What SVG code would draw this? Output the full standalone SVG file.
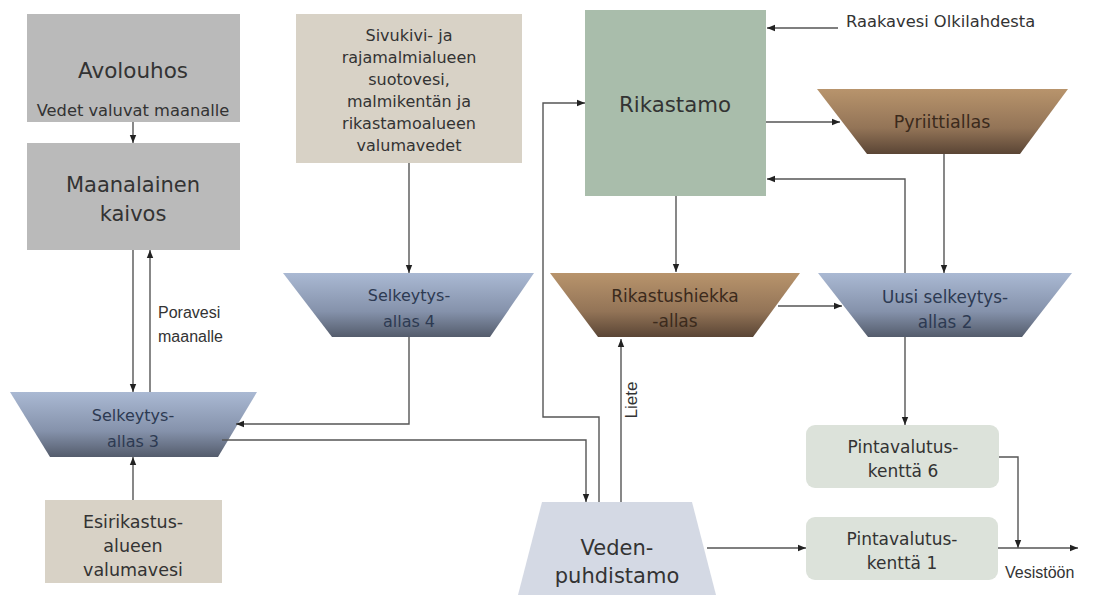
<svg xmlns="http://www.w3.org/2000/svg" width="1095" height="595" viewBox="0 0 1095 595">
<defs>
<linearGradient id="gBlue" x1="0" y1="0" x2="0" y2="1">
<stop offset="0" stop-color="#aab9d3"/><stop offset="0.6" stop-color="#8592ab"/><stop offset="1" stop-color="#545c6c"/>
</linearGradient>
<linearGradient id="gBrown" x1="0" y1="0" x2="0" y2="1">
<stop offset="0" stop-color="#b8946c"/><stop offset="0.6" stop-color="#937457"/><stop offset="1" stop-color="#5a4535"/>
</linearGradient>
<marker id="arr" markerUnits="userSpaceOnUse" markerWidth="8" markerHeight="8" viewBox="0 0 8 8" refX="8" refY="4" orient="auto">
<path d="M0,0.8 L8,4 L0,7.2 Z" fill="#222"/>
</marker>
<style>
.t{font-family:"DejaVu Sans","Liberation Sans",sans-serif;text-anchor:middle;}
.s{font-family:"DejaVu Sans","Liberation Sans",sans-serif;text-anchor:start;}
.n{font-family:"Liberation Sans",Arial,sans-serif;}
.grey{fill:#bababa;}
.beige{fill:#d8d2c6;}
.green{fill:#a9bdab;}
.pale{fill:#dce2da;}
.veden{fill:#d4d9e4;}
.blue{fill:url(#gBlue);}
.brown{fill:url(#gBrown);}
.dk{fill:#333;}
.bt{fill:#2d3a52;}
.br{fill:#3b2a1c;}
.c path{fill:none;stroke:#555;stroke-width:1.4;marker-end:url(#arr);}
</style>
</defs>
<rect width="1095" height="595" fill="#fff"/>

<g id="avolouhos">
<rect class="grey" x="27" y="14" width="213" height="108"/>
<text class="t dk" x="133" y="78" font-size="21.5">Avolouhos</text>
<text class="t dk" x="133" y="116" font-size="16.3">Vedet valuvat maanalle</text>
</g>
<g id="maanalainen">
<rect class="grey" x="27" y="143" width="213" height="107"/>
<text class="t dk" x="133" y="192" font-size="21">Maanalainen</text>
<text class="t dk" x="133" y="221" font-size="21">kaivos</text>
</g>
<g id="sivukivi">
<rect class="beige" x="296" y="14" width="226" height="149"/>
<g class="t dk" font-size="16">
<text x="409" y="41">Sivukivi- ja</text>
<text x="409" y="63">rajamalmialueen</text>
<text x="409" y="85">suotovesi,</text>
<text x="409" y="107">malmikentän ja</text>
<text x="409" y="129">rikastamoalueen</text>
<text x="409" y="151">valumavedet</text>
</g>
</g>
<g id="selkeytys4">
<polygon class="blue" points="283,273 534,273 490,337 332,337"/>
<text class="t bt" x="409" y="301" font-size="16">Selkeytys-</text>
<text class="t bt" x="409" y="327" font-size="16">allas 4</text>
</g>
<g id="selkeytys3">
<polygon class="blue" points="10,392 257,392 218,457 50,457"/>
<text class="t bt" x="133" y="421" font-size="16">Selkeytys-</text>
<text class="t bt" x="133" y="447" font-size="16">allas 3</text>
</g>
<g id="esirikastus">
<rect class="beige" x="45" y="500" width="177" height="83"/>
<text class="t dk" x="133" y="528" font-size="17.5">Esirikastus-</text>
<text class="t dk" x="133" y="552" font-size="17.5">alueen</text>
<text class="t dk" x="133" y="576" font-size="17.5">valumavesi</text>
</g>
<g id="rikastamo">
<rect class="green" x="585" y="10" width="181" height="186"/>
<text class="t dk" x="675" y="112" font-size="21.3">Rikastamo</text>
</g>
<g id="pyriittiallas">
<polygon class="brown" points="817,89 1068,89 1020,154 867,154"/>
<text class="t br" x="942" y="128" font-size="17.5">Pyriittiallas</text>
</g>
<g id="rikastushiekka">
<polygon class="brown" points="550,273 800,273 753,337 598,337"/>
<text class="t br" x="675" y="302" font-size="17">Rikastushiekka</text>
<text class="t br" x="675" y="327" font-size="17">-allas</text>
</g>
<g id="uusiselkeytys2">
<polygon class="blue" points="818,273 1072,273 1022,337 868,337"/>
<text class="t bt" x="945" y="303" font-size="16.8">Uusi selkeytys-</text>
<text class="t bt" x="945" y="328" font-size="16.8">allas 2</text>
</g>
<g id="pintavalutus6">
<rect class="pale" x="806" y="425" width="193" height="63" rx="9"/>
<text class="t dk" x="903" y="453" font-size="17">Pintavalutus-</text>
<text class="t dk" x="903" y="477" font-size="17">kenttä 6</text>
</g>
<g id="pintavalutus1">
<rect class="pale" x="806" y="517" width="192" height="63" rx="9"/>
<text class="t dk" x="902" y="545" font-size="17">Pintavalutus-</text>
<text class="t dk" x="902" y="569" font-size="17">kenttä 1</text>
</g>
<g id="vedenpuhdistamo">
<polygon class="veden" points="542,502 692,502 716,595 518,595"/>
<text class="t dk" x="617" y="555" font-size="21">Veden-</text>
<text class="t dk" x="617" y="583" font-size="21">puhdistamo</text>
</g>

<g id="labels">
<text class="s n dk" x="158" y="318" font-size="16">Poravesi</text>
<text class="s n dk" x="158" y="342" font-size="16">maanalle</text>
<text class="s dk" x="846" y="27" font-size="16.3">Raakavesi Olkilahdesta</text>
<text class="s n dk" x="1005" y="578" font-size="16">Vesistöön</text>
<text class="t n dk" x="0" y="0" font-size="17" transform="translate(637,400) rotate(-90)">Liete</text>
</g>

<g id="connectors" class="c">
<path d="M133,122 V143"/>
<path d="M133,250 V392"/>
<path d="M150,392 V250"/>
<path d="M133,500 V457"/>
<path d="M409,163 V273"/>
<path d="M409,337 V424 H236"/>
<path d="M222,440 H586 V502"/>
<path d="M599,502 V417 H543 V103 H585"/>
<path d="M621,502 V339"/>
<path d="M838,28 H767"/>
<path d="M766,122 H840"/>
<path d="M944,154 V273"/>
<path d="M905,273 V179 H767"/>
<path d="M676,196 V272"/>
<path d="M778,306 H842"/>
<path d="M905,337 V425"/>
<path d="M999,457 H1018 V548"/>
<path d="M707,548 H806"/>
<path d="M998,548 H1078"/>
</g>
</svg>
